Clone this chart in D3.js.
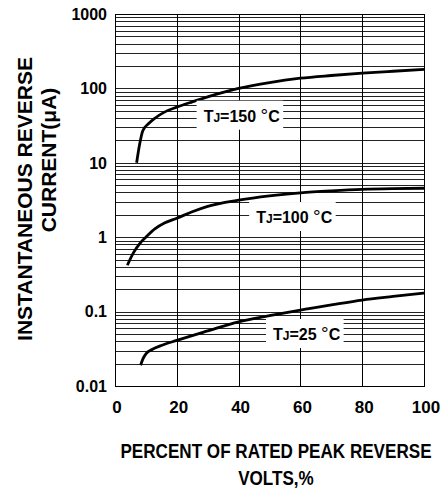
<!DOCTYPE html>
<html>
<head>
<meta charset="utf-8">
<script src="https://cdn.jsdelivr.net/npm/d3@7"></script>
<style>
  body { margin: 0; background: #fff; }
  svg { display: block; font-family: "Liberation Sans", Arial, sans-serif; font-weight: bold; }
</style>
</head>
<body>
<div id="chart"></div>
<script>
// tick values
const xTicks = [0, 20, 40, 60, 80, 100];
const yTicks = [0.01, 0.1, 1, 10, 100, 1000];
const yTickLabels = ["0.01", "0.1", "1", "10", "100", "1000"];

// curves, [percent, current uA]
const tj150 = [[7, 10], [8, 18], [9, 27], [11, 34], [13, 40], [16, 48], [20, 56], [25, 66], [30, 77],
  [40, 100], [50, 120], [60, 137], [70, 149], [80, 160], [90, 170], [100, 180]];
const tj100 = [[4, 0.42], [6, 0.62], [8, 0.82], [10, 1.0], [13, 1.3], [16, 1.55], [20, 1.8], [25, 2.2],
  [30, 2.6], [40, 3.15], [50, 3.6], [60, 3.95], [70, 4.2], [80, 4.4], [90, 4.5], [100, 4.55]];
const tj25 = [[8.3, 0.019], [9, 0.023], [10, 0.027], [12, 0.031], [15, 0.035], [20, 0.041], [30, 0.055],
  [40, 0.073], [50, 0.088], [60, 0.105], [70, 0.123], [80, 0.143], [90, 0.16], [100, 0.178]];

const series = [tj150, tj100, tj25];
const tempLabels = ["150", "100", "25"];

const width = 440, height = 488;
const margin = { top: 14, right: 16, bottom: 102, left: 115 };

const svg = d3.select("#chart").append("svg")
  .attr("width", width)
  .attr("height", height);

const x = d3.scaleLinear().domain([0, 100]).range([margin.left, width - margin.right]);
const y = d3.scaleLog().domain([0.01, 1000]).range([height - margin.bottom, margin.top]);

// horizontal grid, 1..9 in each decade
const minor = [];
for (let d = -2; d < 3; d++) {
  for (let k = 1; k < 10; k++) minor.push(k * Math.pow(10, d));
}
minor.push(1000);

svg.append("g").selectAll("line").data(minor).enter().append("line")
  .attr("x1", x(0)).attr("x2", x(100))
  .attr("y1", d => Math.round(y(d)) + 0.5).attr("y2", d => Math.round(y(d)) + 0.5)
  .attr("stroke", "#222").attr("stroke-width", 1);

svg.append("g").selectAll("line").data(xTicks).enter().append("line")
  .attr("x1", d => Math.round(x(d)) + 0.5).attr("x2", d => Math.round(x(d)) + 0.5)
  .attr("y1", y(1000)).attr("y2", y(0.01))
  .attr("stroke", "#000").attr("stroke-width", 1);

svg.append("rect")
  .attr("x", x(0) + 0.5).attr("y", y(1000) + 0.5)
  .attr("width", x(100) - x(0)).attr("height", y(0.01) - y(1000))
  .attr("fill", "none").attr("stroke", "#000");

// curves
const line = d3.line()
  .x(d => x(d[0]))
  .y(d => y(d[1]))
  .curve(d3.curveMonotoneX);

svg.append("g").selectAll("path").data(series).enter().append("path")
  .attr("d", line)
  .attr("fill", "none")
  .attr("stroke", "#000")
  .attr("stroke-width", 2.8)
  .attr("stroke-linecap", "butt");

// curve labels (centre x, baseline y in data units)
const labelPos = [[41, 35.7], [58, 1.55], [62, 0.0415]];
tempLabels.forEach((t, i) => {
  const g = svg.append("g");
  const txt = g.append("text")
    .attr("x", x(labelPos[i][0]))
    .attr("y", y(labelPos[i][1]))
    .attr("text-anchor", "middle")
    .attr("font-size", 16);
  txt.append("tspan").text("T");
  txt.append("tspan").attr("font-size", 12).text("J");
  txt.append("tspan").text("=" + t + " ");
  txt.append("tspan").attr("font-size", 19).attr("font-weight", "normal").text("°");
  txt.append("tspan").text("C");
  const bb = txt.node().getBBox();
  const base = y(labelPos[i][1]);
  g.insert("rect", "text")
    .attr("x", bb.x - 7).attr("y", base - 21)
    .attr("width", bb.width + 10).attr("height", 29)
    .attr("fill", "#fff");
});

// tick labels
svg.append("g").selectAll("text").data(yTicks).enter().append("text")
  .attr("x", x(0) - 8)
  .attr("y", d => y(d))
  .attr("dy", "0.36em")
  .attr("text-anchor", "end")
  .attr("font-size", 16)
  .text((d, i) => yTickLabels[i]);

svg.append("g").selectAll("text").data(xTicks).enter().append("text")
  .attr("x", d => x(d) + 2)
  .attr("y", 413)
  .attr("text-anchor", "middle")
  .attr("font-size", 17)
  .text(d => d);

// axis titles (horizontally squeezed like the original)
svg.append("text")
  .attr("transform", "translate(276,458) scale(0.855,1)")
  .attr("text-anchor", "middle")
  .attr("font-size", 20)
  .text("PERCENT OF RATED PEAK REVERSE");

svg.append("text")
  .attr("transform", "translate(276,485) scale(0.855,1)")
  .attr("text-anchor", "middle")
  .attr("font-size", 20)
  .text("VOLTS,%");

svg.append("text")
  .attr("transform", "translate(32,199) rotate(-90)")
  .attr("text-anchor", "middle")
  .attr("font-size", 21)
  .text("INSTANTANEOUS REVERSE");

svg.append("text")
  .attr("transform", "translate(56,160) rotate(-90)")
  .attr("text-anchor", "middle")
  .attr("font-size", 21)
  .text("CURRENT(μA)");
</script>
</body>
</html>
